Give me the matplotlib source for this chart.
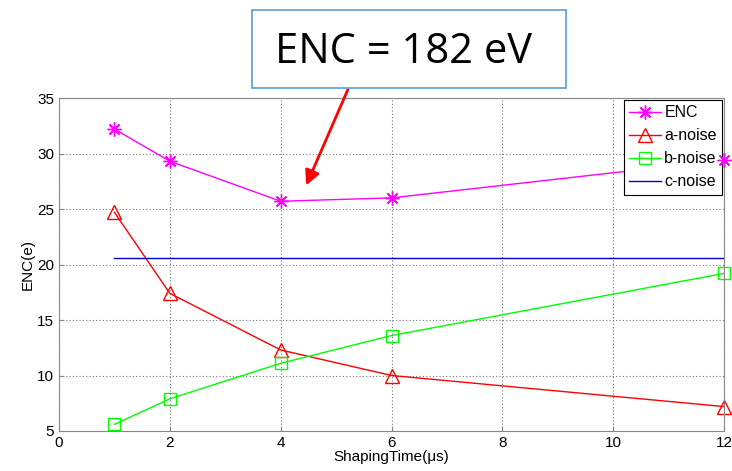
import matplotlib.pyplot as plt
from matplotlib.patches import Rectangle

# shaping time (us) and noise contributions (e)
t = [1, 2, 4, 6, 12]
enc = [32.2, 29.3, 25.7, 26.0, 29.4]
a_noise = [24.7, 17.4, 12.3, 10.0, 7.2]
b_noise = [5.6, 7.9, 11.1, 13.6, 19.2]
c_noise = [20.6, 20.6, 20.6, 20.6, 20.6]

plt.rcParams["font.family"] = ["Liberation Sans", "DejaVu Sans"]

fig = plt.figure(figsize=(7.32, 4.71), dpi=100)
ax = fig.add_axes([59/732, 1-431/471, 665/732, 333/471])

ax.plot(t, enc, color="#ff00ff", marker=(8, 2, 0), markersize=10, mew=1, lw=1, label="ENC")
ax.plot(t, a_noise, color="#ff0000", marker="^", markersize=10, mfc="none", lw=1,
        label="a-noise", clip_on=False)
ax.plot(t, b_noise, color="#00ff00", marker="s", markersize=8, mfc="none", lw=1,
        label="b-noise", clip_on=False)
ax.plot(t, c_noise, color="#0000cc", lw=1, label="c-noise")
# last ENC marker sits on top of the legend border in the original
ax.plot(t[-1:], enc[-1:], color="#ff00ff", marker=(8, 2, 0), markersize=10, mew=1,
        ls="none", clip_on=False, zorder=10)

ax.set_xlim(0, 12)
ax.set_ylim(5, 35)
ax.set_xticks([0, 2, 4, 6, 8, 10, 12])
ax.set_yticks([5, 10, 15, 20, 25, 30, 35])
ax.grid(True, linestyle=(0, (1, 2)), color="#777777", lw=0.8)
ax.tick_params(direction="in", labelsize=11, color="#888888")
for s in ax.spines.values():
    s.set_color("#888888")
ax.set_xlabel("ShapingTime(\u03bcs)", fontsize=11, labelpad=0)
ax.set_ylabel("ENC(e)", fontsize=11, labelpad=2)

leg = ax.legend(loc="upper right", fontsize=11.5, fancybox=False, framealpha=1,
                edgecolor="black", handlelength=2, borderaxespad=0.1,
                labelspacing=0.5, handletextpad=0.2, borderpad=0.35)
leg.get_frame().set_linewidth(0.8)

# callout box
fig.patches.append(Rectangle((252/732, 1-88/471), 314/732, 78/471, transform=fig.transFigure,
                             facecolor="white", edgecolor="#5b9bd5", lw=1.2, zorder=5))
fig.text(275/732, 1-52/471, "ENC = 182 eV", fontsize=30, va="center", ha="left",
         family=["Open Sans", "DejaVu Sans"], zorder=6)
ax.annotate("", xy=(4.44, 26.9), xycoords="data",
            xytext=(349/732, 1-87/471), textcoords="figure fraction",
            arrowprops=dict(arrowstyle="-|>", color="#ff0000", lw=2, mutation_scale=22),
            annotation_clip=False)

fig.savefig("out.png", dpi=100)
